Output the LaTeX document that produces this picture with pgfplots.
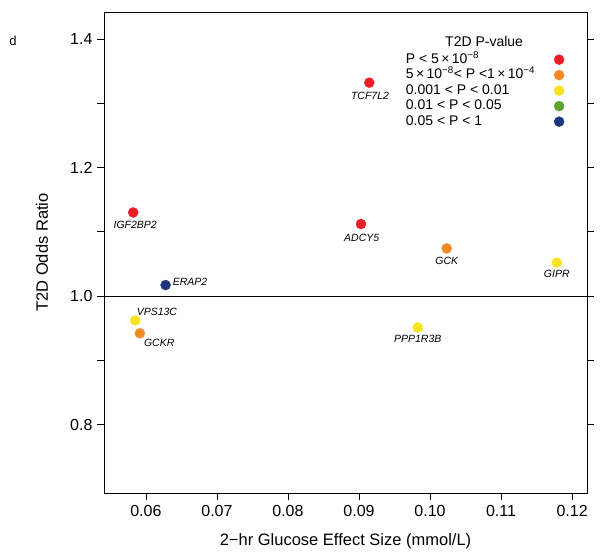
\documentclass[border=0pt]{standalone}
\usepackage{pgfplots}
\pgfplotsset{compat=1.18}
\usepackage{fontspec}
\setmainfont{Liberation Sans}
\definecolor{cred}{RGB}{234,30,36}
\definecolor{corange}{RGB}{242,138,36}
\definecolor{cyellow}{RGB}{247,228,30}
\definecolor{cgreen}{RGB}{92,162,44}
\definecolor{cblue}{RGB}{30,55,122}
\begin{document}
\begin{tikzpicture}
\useasboundingbox (0,0) rectangle (600bp,552bp);
\node[anchor=center, font=\fontsize{13bp}{15bp}\selectfont] at (13bp,511bp) {d};
\begin{axis}[
  at={(104bp,59bp)}, anchor=south west,
  scale only axis, width=483bp, height=481bp,
  xmin=0.0541, xmax=0.1221, ymin=0.6934, ymax=1.442,
  xtick={0.06,0.07,0.08,0.09,0.10,0.11,0.12},
  xticklabels={0.06,0.07,0.08,0.09,0.10,0.11,0.12},
  ytick={0.8,0.9,1.0,1.1,1.2,1.3,1.4},
  yticklabels={0.8,,1.0,,1.2,,1.4},
  xtick pos=bottom, ytick pos=both,
  tick align=outside,
  major tick length=7bp,
  every tick/.style={black, line width=0.5pt},
  axis line style={line width=0.6pt},
  /pgf/number format/assume math mode=true,
  tick label style={font=\fontsize{16bp}{19bp}\selectfont},
  yticklabel style={xshift=-1bp},
  xticklabel style={yshift=-2bp},
  xlabel={2−hr Glucose Effect Size (mmol/L)},
  ylabel={T2D Odds Ratio},
  label style={font=\fontsize{16.5bp}{19bp}\selectfont},
  xlabel style={at={(axis description cs:0.5,-0.0998)}, anchor=center},
  ylabel style={at={(axis description cs:-0.1284,0.5)}, anchor=center},
  clip=false,
  legend plot pos=right,
  legend cell align=left,
  legend image code/.code={\draw[#1] plot coordinates {(0bp,0bp)};},
  legend style={at={(0.623,0.917)}, anchor=north west, draw=none, fill=none,
    inner sep=0pt, outer sep=0pt,
    font=\fontsize{14bp}{16bp}\selectfont,
    nodes={text height=10.5bp, text depth=3bp, inner sep=1bp},
    /tikz/every odd column/.append style={column sep=18bp}},
]
\addplot[black, line width=0.5pt, forget plot] coordinates {(0.0541,1.0) (0.1221,1.0)};
% red: P < 5e-8
\addplot[only marks, mark=*, mark size=5bp, color=cred, mark options={draw=cred, fill=cred}] coordinates {
 (0.09145,1.332) (0.05821,1.130) (0.09028,1.112)};
\addlegendentry{P < 5\,×\,10\textsuperscript{−8}}
% orange
\addplot[only marks, mark=*, mark size=5bp, color=corange, mark options={draw=corange, fill=corange}] coordinates {
 (0.10235,1.074) (0.05915,0.942)};
\addlegendentry{5\,×\,10\textsuperscript{−8}< P <1\,×\,10\textsuperscript{−4}}
% yellow
\addplot[only marks, mark=*, mark size=5bp, color=cyellow, mark options={draw=cyellow, fill=cyellow}] coordinates {
 (0.11785,1.052) (0.05849,0.962) (0.09827,0.951)};
\addlegendentry{0.001 < P < 0.01}
% green (no points)
\addlegendimage{only marks, mark=*, mark size=5bp, color=cgreen, mark options={draw=cgreen, fill=cgreen}}
\addlegendentry{0.01 < P < 0.05}
% blue
\addplot[only marks, mark=*, mark size=5bp, color=cblue, mark options={draw=cblue, fill=cblue}] coordinates {
 (0.06277,1.017)};
\addlegendentry{0.05 < P < 1}
% legend title
\node[font=\fontsize{14bp}{16bp}\selectfont, anchor=center] at (rel axis cs:0.787,0.938) {T2D P-value};
% gene labels
\begin{scope}[every node/.style={font=\fontsize{10.5bp}{12bp}\itshape, inner sep=0pt}]
\node[anchor=center, xshift=0.7bp, yshift=-13.3bp] at (axis cs:0.09145,1.332) {TCF7L2};
\node[anchor=center, xshift=2bp, yshift=-12.7bp] at (axis cs:0.05821,1.130) {IGF2BP2};
\node[anchor=center, xshift=0.7bp, yshift=-14bp] at (axis cs:0.09028,1.112) {ADCY5};
\node[anchor=center, yshift=-12.7bp] at (axis cs:0.10235,1.074) {GCK};
\node[anchor=center, yshift=-11.5bp] at (axis cs:0.11785,1.052) {GIPR};
\node[anchor=west, xshift=7bp, yshift=3bp] at (axis cs:0.06277,1.017) {ERAP2};
\node[anchor=west, xshift=1.4bp, yshift=8.7bp] at (axis cs:0.05849,0.962) {VPS13C};
\node[anchor=west, xshift=4bp, yshift=-9.7bp] at (axis cs:0.05915,0.942) {GCKR};
\node[anchor=center, yshift=-11.7bp] at (axis cs:0.09827,0.951) {PPP1R3B};
\end{scope}
\end{axis}
\end{tikzpicture}
\end{document}
